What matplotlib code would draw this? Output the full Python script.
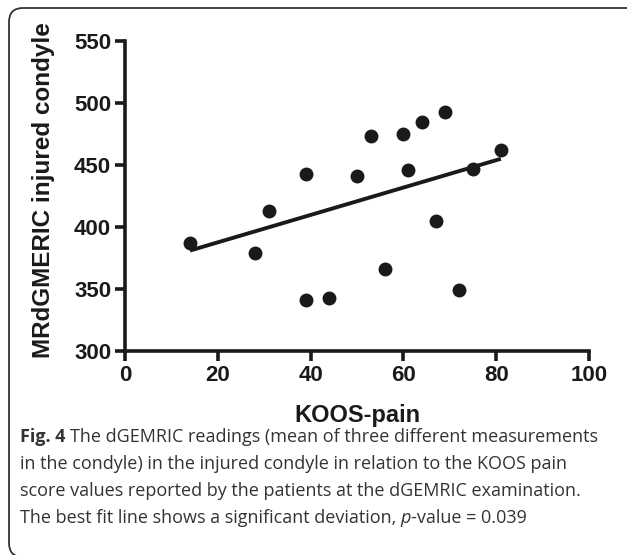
import matplotlib
matplotlib.use('Agg')
import matplotlib.pyplot as plt
import matplotlib.patches as mpatches
from matplotlib.transforms import IdentityTransform

# data
koos_pain = [14, 28, 31, 39, 39, 44, 50, 53, 56, 60, 61, 64, 67, 69, 72, 75, 81]
dgemric = [387, 379, 413, 443, 341, 343, 441, 473, 366, 475, 446, 485, 405, 493, 349, 447, 462]
# end points of the published best fit line
fit_x = [14, 81]
fit_y = [381, 455]
x_ticks = [0, 20, 40, 60, 80, 100]
y_ticks = [300, 350, 400, 450, 500, 550]

caption_lines = [
    "The dGEMRIC readings (mean of three different measurements",
    "in the condyle) in the injured condyle in relation to the KOOS pain",
    "score values reported by the patients at the dGEMRIC examination.",
    "The best fit line shows a significant deviation, ",
]

fig = plt.figure(figsize=(6.27, 5.55), dpi=100)
ax = fig.add_axes([125 / 627, 1 - 351 / 555, 464 / 627, 310 / 555])

ink = '#1a1a1a'
ax.scatter(koos_pain, dgemric, s=9 ** 2, color=ink, zorder=3, clip_on=False)
ax.plot(fit_x, fit_y, color=ink, linewidth=2.8, solid_capstyle='butt', zorder=2)

ax.set_xlim(0, 100)
ax.set_ylim(300, 550)
ax.set_xticks(x_ticks)
ax.set_yticks(y_ticks)
for side in ['top', 'right']:
    ax.spines[side].set_visible(False)
for side in ['left', 'bottom']:
    ax.spines[side].set_linewidth(2.6)
    ax.spines[side].set_color(ink)
ax.tick_params(direction='out', length=7, width=2.6, color=ink, pad=3)
for lab in ax.get_xticklabels() + ax.get_yticklabels():
    lab.set_fontfamily('Liberation Sans')
    lab.set_fontweight('bold')
    lab.set_fontsize(16)
    lab.set_color(ink)

ax.set_xlabel('KOOS-pain', fontsize=17, fontweight='bold', family='Liberation Sans', color=ink, labelpad=13)
ax.set_ylabel('MRdGMERIC injured condyle', fontsize=17.5, fontweight='bold', family='Liberation Sans', color=ink)
ax.yaxis.set_label_coords(-0.15, 0.52)

# rounded frame around the figure panel
frame = mpatches.FancyBboxPatch((9, -2), 650, 549, boxstyle='round,pad=0,rounding_size=14',
                                transform=IdentityTransform(), fill=False, edgecolor='#333333', linewidth=1.3)
fig.patches.append(frame)

# caption
cap_color = '#333333'
cap_font = 'Open Sans'
cap_size = 13.0
renderer = fig.canvas.get_renderer()
x0 = 20 / 627
baselines = [442, 469, 496, 523]
bold = fig.text(x0, 1 - baselines[0] / 555, 'Fig. 4 ', family=cap_font, fontsize=cap_size,
                fontweight='bold', color=cap_color, va='baseline')
w = bold.get_window_extent(renderer).width / 627
fig.text(x0 + w, 1 - baselines[0] / 555, caption_lines[0], family=cap_font, fontsize=cap_size,
         color=cap_color, va='baseline')
for i in (1, 2):
    fig.text(x0, 1 - baselines[i] / 555, caption_lines[i], family=cap_font, fontsize=cap_size,
             color=cap_color, va='baseline')
t = fig.text(x0, 1 - baselines[3] / 555, caption_lines[3], family=cap_font, fontsize=cap_size,
             color=cap_color, va='baseline')
xp = x0 + t.get_window_extent(renderer).width / 627
p = fig.text(xp, 1 - baselines[3] / 555, 'p', family=cap_font, fontsize=cap_size, style='italic',
             color=cap_color, va='baseline')
xv = xp + p.get_window_extent(renderer).width / 627
fig.text(xv, 1 - baselines[3] / 555, '-value = 0.039', family=cap_font, fontsize=cap_size,
         color=cap_color, va='baseline')

fig.savefig('out.png', dpi=100)
